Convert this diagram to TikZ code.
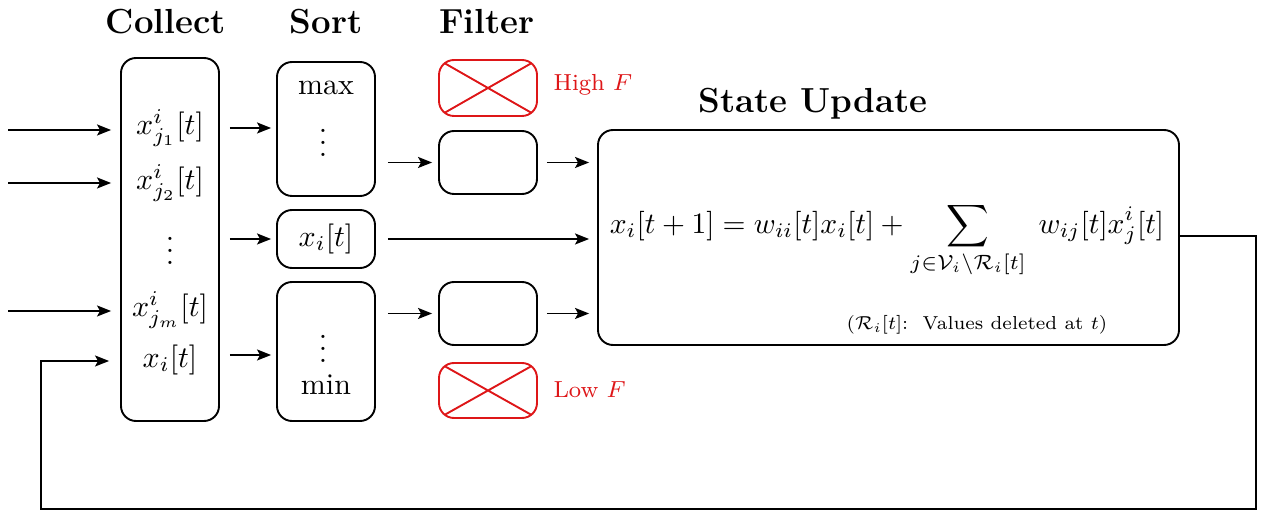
\documentclass[tikz,border=0pt]{standalone}
\usepackage{amsmath,amssymb}
\usetikzlibrary{arrows.meta,calc}
\definecolor{cutred}{RGB}{222,22,24}
\tikzset{
  box/.style={draw, line width=1.9pt, rounded corners=15pt, inner sep=0pt, minimum width=98pt},
  cutbox/.style={box, draw=cutred, path picture={
      \draw[cutred, line width=1.9pt]
        (path picture bounding box.north west) -- (path picture bounding box.south east)
        (path picture bounding box.south west) -- (path picture bounding box.north east);}},
  arr/.style={line width=1.9pt, -{Stealth[length=14pt,width=11pt,inset=3pt]}},
  txt/.style={scale=3, inner sep=0pt},
  title/.style={scale=2.9, font=\large\bfseries, inner sep=0pt},
  redlab/.style={scale=2.9, text=cutred, font=\footnotesize, anchor=west, inner sep=0pt},
  note/.style={scale=2.68, font=\scriptsize, inner sep=0pt}
}
\begin{document}
\begin{tikzpicture}[x=1pt, y=-1pt]
\useasboundingbox (0,0) rectangle (1262,510);

% column titles
\node[title] (tcol) at (166,22) {Collect};
\node[title] (tsort) at (326,22) {Sort};
\node[title] (tfilt) at (487,22) {Filter};
\node[title] (tupd) at (813,104) {State Update};

% collect block
\node[box, minimum height=363pt] (collect) at (170,239.5) {};
\node[txt] (c1) at (170,128) {$x^i_{j_1}[t]$};
\node[txt] (c2) at (170,183) {$x^i_{j_2}[t]$};
\node[txt] (c3) at (170,242) {$\vdots$};
\node[txt] (c4) at (170,310) {$x^i_{j_m}[t]$};
\node[txt] (c5) at (170,360) {$x_i[t]$};

% sort blocks
\node[box, minimum height=134pt] (stop) at (326,129) {};
\node[txt] (smax) at (326,88) {max};
\node[txt] (sdots1) at (323,134) {$\vdots$};
\node[box, minimum height=58pt] (smid) at (326,239) {};
\node[txt] (sxi) at (326,239) {$x_i[t]$};
\node[box, minimum height=139pt] (sbot) at (326,351.5) {};
\node[txt] (sdots2) at (323,340) {$\vdots$};
\node[txt] (smin) at (326,385) {min};

% filter blocks
\node[cutbox, minimum height=56pt] (fhigh) at (488,88) {};
\node[box, minimum height=63pt] (f1) at (488,162.5) {};
\node[box, minimum height=63pt] (f2) at (488,313.5) {};
\node[cutbox, minimum height=55pt] (flow) at (488,390.5) {};
\node[redlab] (lhigh) at (553,85) {High $F$};
\node[redlab] (llow) at (553,390) {Low $F$};

% state update block
\node[box, minimum width=581pt, minimum height=215pt] (upd) at (888.5,237.5) {};
\node[txt, scale=0.985] (eq) at (887,240) {$\displaystyle x_i[t+1] = w_{ii}[t]x_i[t] + \sum_{j\in\mathcal{V}_i\setminus\mathcal{R}_i[t]}\; w_{ij}[t]x^i_j[t]$};
\node[note] (nt) at (977,325) {$(\mathcal{R}_i[t]$:\ \ Values deleted at $t)$};

% incoming values
\coordinate (in1) at (8,130);
\coordinate (in2) at (8,183);
\coordinate (in3) at (8,311);
\foreach \p in {in1,in2,in3}
  \draw[arr, shorten >=9pt] (\p) -- (collect.west |- \p);

% collect -> sort
\coordinate (r1) at (0,128);
\coordinate (r2) at (0,239);
\coordinate (r3) at (0,355);
\draw[arr, shorten <=10pt, shorten >=5pt] (collect.east |- r1) -- (stop.west |- r1);
\draw[arr, shorten <=10pt, shorten >=5pt] (collect.east |- r2) -- (smid.west |- r2);
\draw[arr, shorten <=10pt, shorten >=5pt] (collect.east |- r3) -- (sbot.west |- r3);

% sort -> filter -> update
\draw[arr, shorten <=12pt, shorten >=6pt] (stop.east |- f1) -- (f1.west);
\draw[arr, shorten <=12pt, shorten >=6pt] (sbot.east |- f2) -- (f2.west);
\draw[arr, shorten <=12pt, shorten >=8pt] (smid.east) -- (upd.west |- smid);
\draw[arr, shorten <=9pt, shorten >=8pt] (f1.east) -- (upd.west |- f1);
\draw[arr, shorten <=9pt, shorten >=8pt] (f2.east) -- (upd.west |- f2);

% feedback of the new state
\coordinate (fbR) at (1256,509);
\coordinate (fbL) at (41,509);
\coordinate (fbIn) at (41,361);
\draw[arr, shorten >=11pt, line join=miter] (upd.east |- 0,236) -| (fbR) -- (fbL) -- (fbIn) -- (collect.west |- fbIn);
\end{tikzpicture}
\end{document}
